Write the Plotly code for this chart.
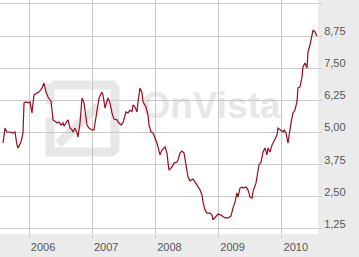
import plotly.graph_objects as go

# time in decimal years, value of the instrument
t = [2005.589, 2005.620, 2005.652, 2005.699, 2005.747, 2005.778, 2005.810, 2005.826, 2005.873, 2005.905,
     2005.921, 2005.953, 2005.984, 2006.016, 2006.047, 2006.079, 2006.127, 2006.158, 2006.206, 2006.237,
     2006.269, 2006.301, 2006.348, 2006.364, 2006.380, 2006.427, 2006.443, 2006.475, 2006.506, 2006.538,
     2006.554, 2006.585, 2006.617, 2006.649, 2006.680, 2006.696, 2006.728, 2006.760, 2006.775, 2006.807,
     2006.839, 2006.870, 2006.918, 2006.949, 2006.997, 2007.028, 2007.076, 2007.108, 2007.155, 2007.171,
     2007.203, 2007.250, 2007.282, 2007.313, 2007.345, 2007.392, 2007.408, 2007.456, 2007.487, 2007.535,
     2007.566, 2007.598, 2007.630, 2007.646, 2007.677, 2007.709, 2007.725, 2007.756, 2007.788, 2007.804,
     2007.851, 2007.883, 2007.899, 2007.930, 2007.962, 2008.025, 2008.073, 2008.104, 2008.152, 2008.184,
     2008.199, 2008.215, 2008.263, 2008.294, 2008.342, 2008.358, 2008.389, 2008.421, 2008.453, 2008.484,
     2008.516, 2008.548, 2008.595, 2008.627, 2008.658, 2008.674, 2008.706, 2008.737, 2008.753, 2008.785,
     2008.816, 2008.864, 2008.896, 2008.911, 2008.959, 2008.991, 2009.038, 2009.070, 2009.101, 2009.149,
     2009.196, 2009.228, 2009.260, 2009.291, 2009.307, 2009.339, 2009.370, 2009.386, 2009.434, 2009.465,
     2009.497, 2009.529, 2009.544, 2009.592, 2009.608, 2009.639, 2009.671, 2009.687, 2009.703, 2009.734,
     2009.766, 2009.782, 2009.813, 2009.845, 2009.861, 2009.892, 2009.924, 2009.940, 2009.987, 2010.019,
     2010.035, 2010.067, 2010.098, 2010.114, 2010.146, 2010.177, 2010.209, 2010.241, 2010.256, 2010.288,
     2010.320, 2010.335, 2010.367, 2010.399, 2010.415, 2010.446, 2010.478, 2010.494, 2010.525, 2010.557]

price = [4.59, 5.17, 5.02, 5.02, 4.98, 5.02, 4.51, 4.40, 4.63, 4.98,
         6.15, 6.19, 6.15, 6.19, 5.76, 6.46, 6.54, 6.57, 6.73, 6.92,
         6.57, 6.38, 6.22, 5.87, 5.49, 5.41, 5.37, 5.41, 5.29, 5.37,
         5.25, 5.37, 5.49, 5.17, 5.10, 5.02, 5.17, 4.98, 4.82, 5.37,
         6.34, 6.15, 5.29, 5.17, 5.10, 5.10, 5.76, 6.34, 6.57, 6.46,
         5.95, 6.34, 6.15, 5.76, 5.52, 5.49, 5.41, 5.29, 5.37, 5.80,
         5.76, 5.87, 5.80, 6.07, 5.99, 5.80, 6.19, 6.73, 6.54, 6.19,
         5.99, 5.68, 5.29, 5.02, 4.98, 4.59, 4.13, 4.32, 4.44, 4.20,
         3.85, 3.54, 3.66, 3.81, 3.85, 3.93, 4.20, 4.28, 4.20, 3.66,
         3.27, 3.12, 3.19, 3.08, 2.96, 2.88, 2.77, 2.57, 2.30, 1.99,
         1.87, 1.87, 1.79, 1.60, 1.75, 1.83, 1.79, 1.72, 1.68, 1.68,
         1.75, 2.07, 2.30, 2.65, 2.49, 2.84, 2.88, 2.84, 2.88, 2.77,
         2.49, 2.45, 2.69, 3.04, 3.23, 3.74, 3.85, 4.05, 4.24, 4.40,
         4.13, 4.40, 4.24, 4.51, 4.59, 4.71, 4.90, 5.17, 5.10, 5.02,
         5.10, 4.98, 4.59, 4.90, 5.37, 5.76, 5.87, 6.22, 6.73, 6.77,
         7.16, 7.55, 7.70, 7.51, 8.13, 8.40, 8.91, 8.98, 8.91, 8.75]

year_ticks = [2006, 2007, 2008, 2009, 2010]
year_labels = ["2006", "2007", "2008", "2009", "2010"]
y_ticks = [1.25, 2.50, 3.75, 5.00, 6.25, 7.50, 8.75, 10.00]
y_labels = ["1,25", "2,50", "3,75", "5,00", "6,25", "7,50", "8,75", ""]

W, H = 359, 257
PW, PH = 318, 234
GRID = "#c9c9c9"
WM = "#e7e7e7"


def px(x, y):
    return x / PW, 1 - y / PH


def path(points):
    s = ""
    for i, (x, y) in enumerate(points):
        a, b = px(x, y)
        s += ("M" if i == 0 else "L") + f"{a:.4f},{b:.4f} "
    return s


fig = go.Figure()
fig.add_trace(go.Scatter(x=t, y=price, mode="lines",
                         line=dict(color="#9c0a1e", width=1.2),
                         hoverinfo="skip", showlegend=False))

shapes = [
    # watermark icon: rounded frame
    dict(type="path", xref="paper", yref="paper", layer="below",
         path=path([(50, 104), (50, 88), (55, 85), (112, 85), (115, 88), (115, 149), (112, 152), (82, 152)]),
         line=dict(color=WM, width=9)),
    # watermark icon: arrow
    dict(type="path", xref="paper", yref="paper", layer="below",
         path=path([(98, 106), (58, 144)]),
         line=dict(color=WM, width=9)),
    dict(type="path", xref="paper", yref="paper", layer="below",
         path=path([(50, 118), (50, 152), (82, 152)]),
         line=dict(color=WM, width=9)),
    # watermark text
    dict(type="rect", xref="paper", yref="paper", layer="below",
         x0=px(140, 0)[0], x1=px(282, 0)[0], y0=px(0, 125)[1], y1=px(0, 78)[1],
         line=dict(width=0), fillcolor="rgba(0,0,0,0)",
         label=dict(text="<b>OnVista</b>", font=dict(family="Liberation Sans", size=37, color=WM),
                    textposition="middle center")),
]

fig.update_layout(
    width=W, height=H, autosize=False,
    margin=dict(l=0, r=W - PW, t=0, b=H - PH, pad=0),
    paper_bgcolor="#ebebeb", plot_bgcolor="#ffffff",
    font=dict(family="Liberation Sans, Arial", size=11, color="#555555"),
    shapes=shapes,
    xaxis=dict(range=[2005.541, 2010.573], tickvals=year_ticks, ticktext=year_labels,
               showgrid=True, gridcolor=GRID, gridwidth=1, zeroline=False, showline=False,
               ticks="outside", ticklen=3, tickcolor=GRID, ticklabelshift=14,
               automargin=False, fixedrange=True),
    yaxis=dict(range=[1.055, 10.149], side="right", tickvals=y_ticks, ticktext=y_labels,
               showgrid=True, gridcolor=GRID, gridwidth=1, zeroline=False, showline=False,
               ticks="outside", ticklen=3, tickcolor=GRID, ticklabelshift=-5,
               automargin=False, fixedrange=True),
)

fig.write_html("out.html", config=dict(displayModeBar=False))
